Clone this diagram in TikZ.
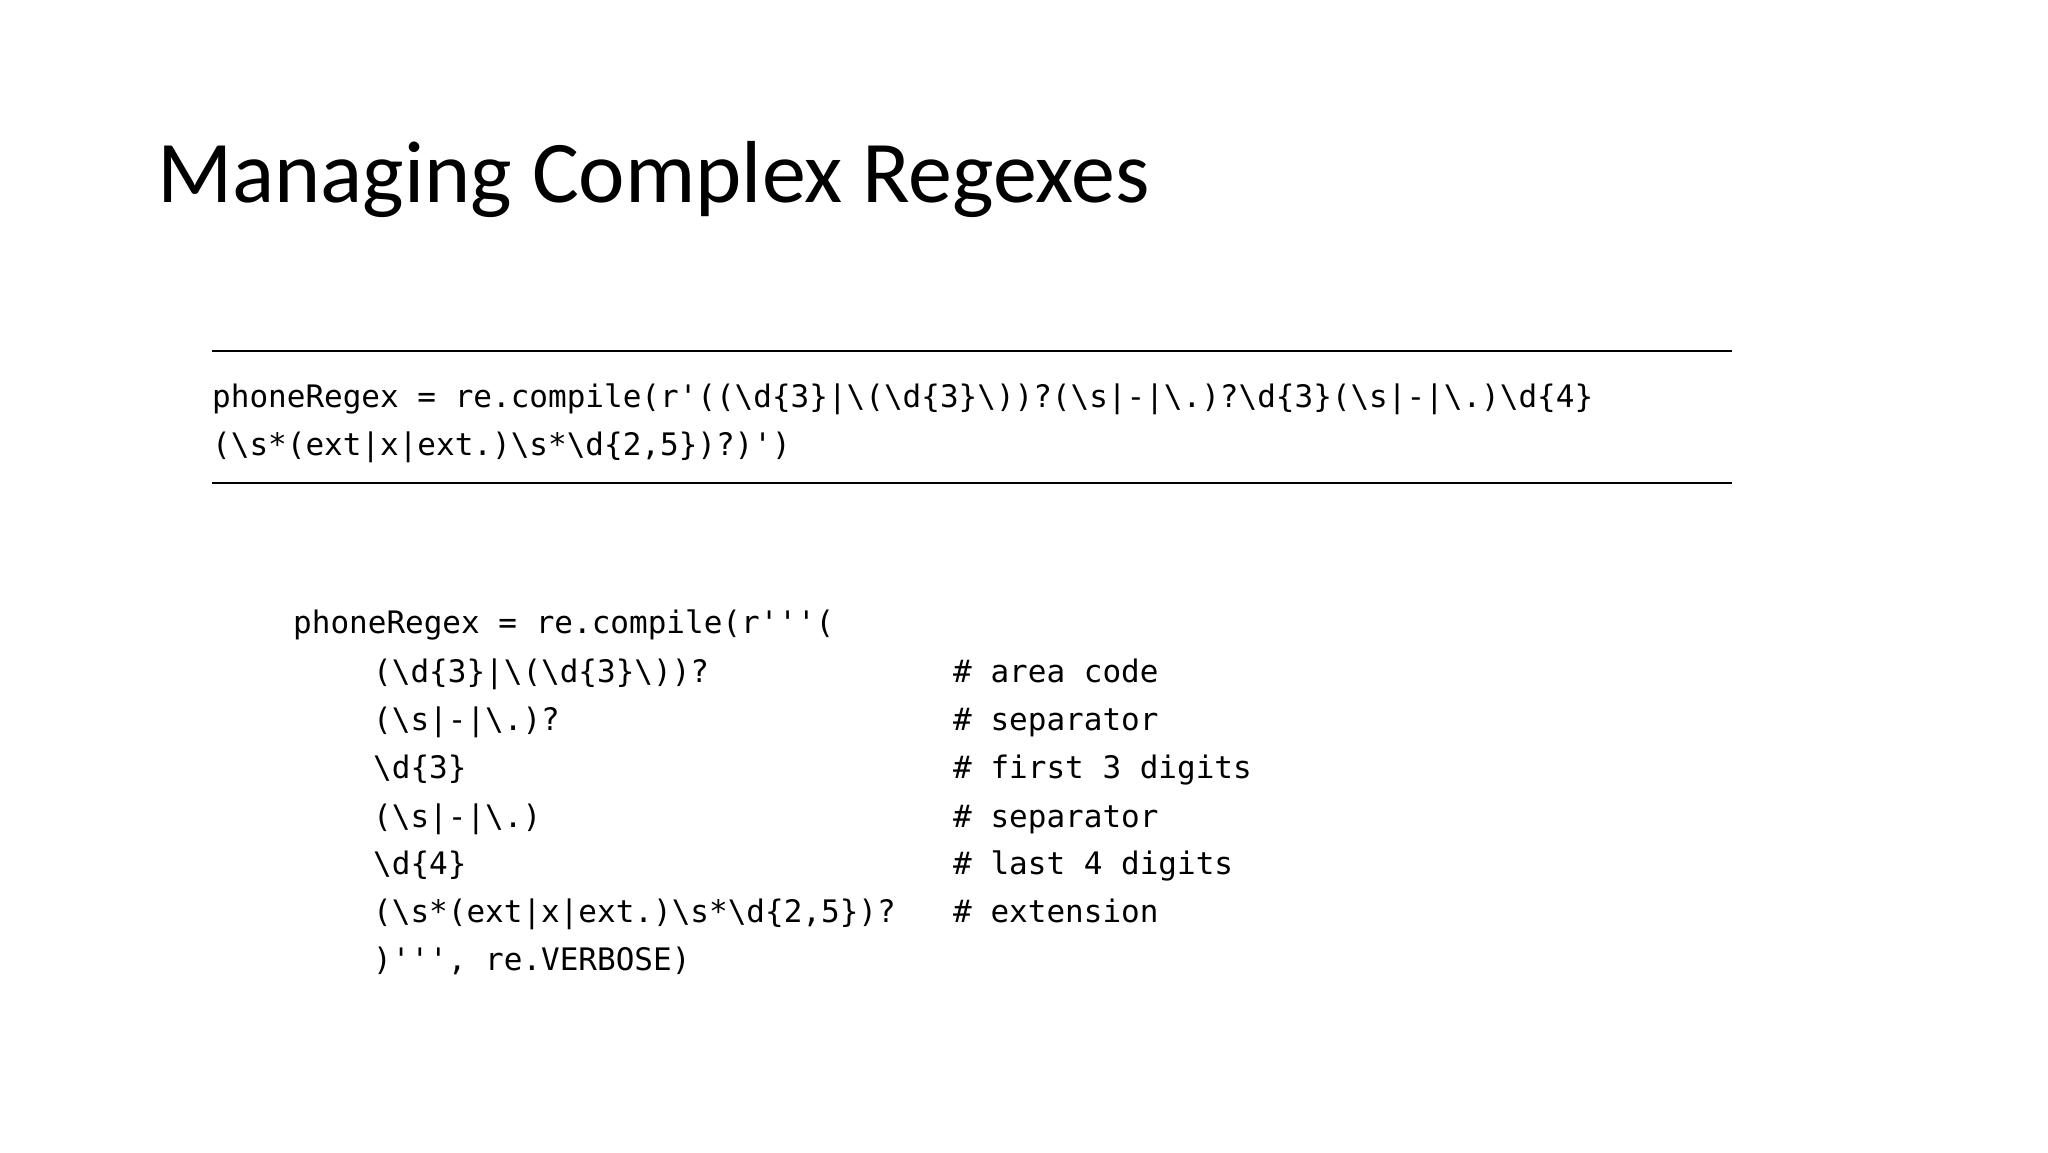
\documentclass[tikz,border=0pt]{standalone}
\usepackage{fontspec}
\setmainfont{Carlito}
\newfontfamily\codefont{DejaVu Sans Mono}
\begin{document}
\begin{tikzpicture}[x=1pt,y=-1pt,
  code/.style={anchor=base west,inner sep=0pt,font=\codefont\fontsize{31}{31}\selectfont},
  rule/.style={line width=1.6pt}]
\useasboundingbox (0,0) rectangle (2048,1152);
\node[anchor=base west,inner sep=0pt,font=\fontsize{88}{88}\selectfont] (title) at (157,202) {Managing Complex Regexes};
\coordinate (t1) at (212,351); \coordinate (t2) at (1732,351);
\coordinate (b1) at (212,483); \coordinate (b2) at (1732,483);
\draw[rule] (t1) -- (t2);
\draw[rule] (b1) -- (b2);
\node[code] (l1) at (212,407) {phoneRegex = re.compile(r'((\textbackslash d\{3\}|\textbackslash(\textbackslash d\{3\}\textbackslash))?(\textbackslash s|-|\textbackslash.)?\textbackslash d\{3\}(\textbackslash s|-|\textbackslash.)\textbackslash d\{4\}};
\node[code] (l2) at (212,455) {(\textbackslash s*(ext|x|ext.)\textbackslash s*\textbackslash d\{2,5\})?)')};
\node[code] (v0) at (293,633) {phoneRegex = re.compile(r'{}'{}'(};
\node[code] (v1) at (373,682) {(\textbackslash d\{3\}|\textbackslash(\textbackslash d\{3\}\textbackslash))?};
\node[code] (v2) at (373,730) {(\textbackslash s|-|\textbackslash.)?};
\node[code] (v3) at (373,778) {\textbackslash d\{3\}};
\node[code] (v4) at (373,827) {(\textbackslash s|-|\textbackslash.)};
\node[code] (v5) at (373,874) {\textbackslash d\{4\}};
\node[code] (v6) at (373,922) {(\textbackslash s*(ext|x|ext.)\textbackslash s*\textbackslash d\{2,5\})?};
\node[code] (v7) at (373,970) {)'{}'{}', re.VERBOSE)};
\node[code] (c1) at (953,682) {\# area code};
\node[code] (c2) at (953,730) {\# separator};
\node[code] (c3) at (953,778) {\# first 3 digits};
\node[code] (c4) at (953,827) {\# separator};
\node[code] (c5) at (953,874) {\# last 4 digits};
\node[code] (c6) at (953,922) {\# extension};
\end{tikzpicture}
\end{document}
